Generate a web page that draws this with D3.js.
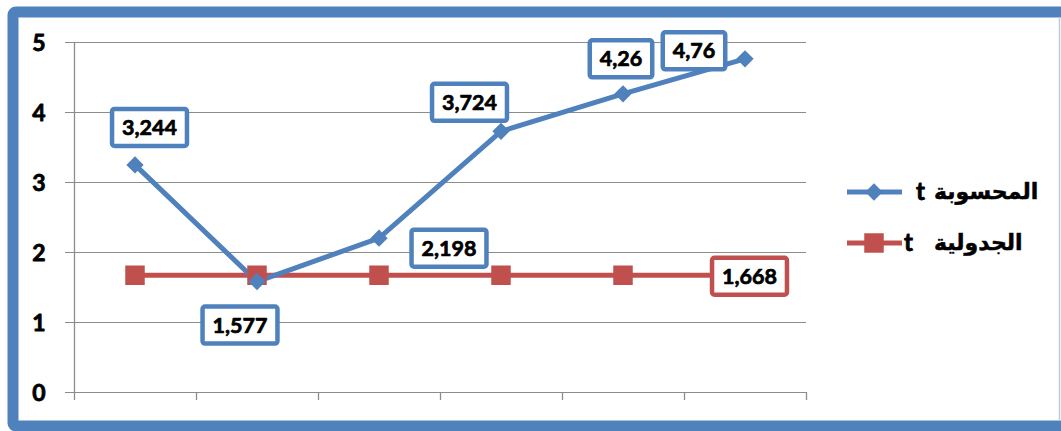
<!DOCTYPE html>
<html>
<head>
<meta charset="utf-8">
<script src="https://cdn.jsdelivr.net/npm/d3@7"></script>
<style>
  html, body { margin: 0; padding: 0; background: #fff; }
  svg { display: block; }
</style>
</head>
<body>
<svg id="chart" width="1061" height="431"></svg>
<script>
// Observation points (not labelled on the axis)
const categories = ["1", "2", "3", "4", "5", "6"];
// Computed t values
const tComputed = [3.244, 1.577, 2.198, 3.724, 4.26, 4.76];
// Tabulated (critical) t value
const tTable = [1.668, 1.668, 1.668, 1.668, 1.668, 1.668];
// Value axis ticks
const yTicks = [0, 1, 2, 3, 4, 5];
// Legend entries
const legendNames = ["المحسوبة", "الجدولية"];

const BLUE = "#4F81BD";
const RED = "#C0504D";
const GRID = "#8c8c8c";
const FONT = "Lato, 'Open Sans', 'Liberation Sans', sans-serif";

const svg = d3.select("#chart");

// Heavy text: bold face with a thin outline of the same colour
function heavy(sel, w) {
  return sel.attr("font-weight", "bold")
    .attr("fill", "#000")
    .attr("stroke", "#000").attr("stroke-width", w)
    .attr("stroke-linejoin", "round");
}

// Outer frame
svg.append("rect")
  .attr("x", 13).attr("y", 12)
  .attr("width", 1100).attr("height", 414)
  .attr("rx", 3)
  .attr("fill", "#fff")
  .attr("stroke", BLUE).attr("stroke-width", 11);
svg.append("line")
  .attr("x1", 1059.5).attr("x2", 1059.5)
  .attr("y1", 17).attr("y2", 421)
  .attr("stroke", "#b8cce4").attr("stroke-width", 1.5);

const x = d3.scaleBand().domain(categories).range([74, 806]).padding(0);
const y = d3.scaleLinear().domain([0, 5]).range([392, 42]);
const cx = d => x(d) + x.bandwidth() / 2;

// Horizontal gridlines + value axis
const yAxis = d3.axisLeft(y)
  .tickValues(yTicks)
  .tickSize(-(806 - 74))
  .tickPadding(0)
  .tickFormat("");
const gy = svg.append("g").attr("transform", "translate(74,0)").call(yAxis);
gy.select(".domain").remove();
gy.selectAll(".tick line")
  .attr("x1", -9)
  .attr("stroke", GRID).attr("stroke-width", 1.3)
  .attr("shape-rendering", "crispEdges");

svg.append("line")
  .attr("x1", 74.5).attr("x2", 74.5)
  .attr("y1", y(5)).attr("y2", y(0))
  .attr("stroke", GRID).attr("stroke-width", 1.3);

// Tick labels
svg.append("g").selectAll("text")
  .data(yTicks).join("text")
  .attr("x", 39).attr("y", d => y(d) + 8.5)
  .attr("text-anchor", "middle")
  .attr("font-family", FONT)
  .attr("font-size", 23)
  .call(heavy, 0.8)
  .text(d => d);

// Category axis with boundary tick marks
const xAxis = d3.axisBottom(x).tickSize(0).tickFormat("");
const gx = svg.append("g").attr("transform", "translate(0,392)").call(xAxis);
gx.select(".domain").remove();
gx.selectAll(".tick").remove();
svg.append("g").selectAll("line")
  .data(d3.range(categories.length + 1)).join("line")
  .attr("x1", i => 74.5 + i * x.bandwidth())
  .attr("x2", i => 74.5 + i * x.bandwidth())
  .attr("y1", 392).attr("y2", 400)
  .attr("stroke", GRID).attr("stroke-width", 1.3);

// Series lines
const line = d3.line().x((d, i) => cx(categories[i])).y(d => y(d));

svg.append("path").datum(tTable)
  .attr("d", line).attr("fill", "none")
  .attr("stroke", RED).attr("stroke-width", 5);

svg.append("path").datum(tComputed)
  .attr("d", line).attr("fill", "none")
  .attr("stroke", BLUE).attr("stroke-width", 5)
  .attr("stroke-linejoin", "round");

// Markers
const diamond = d3.symbol().type(d3.symbolDiamond2).size(190);
const square = d3.symbol().type(d3.symbolSquare).size(380);

svg.append("g").selectAll("path")
  .data(tTable).join("path")
  .attr("d", square)
  .attr("transform", (d, i) => `translate(${cx(categories[i])},${y(d)})`)
  .attr("fill", RED);

svg.append("g").selectAll("path")
  .data(tComputed).join("path")
  .attr("d", diamond)
  .attr("transform", (d, i) => `translate(${cx(categories[i])},${y(d)})`)
  .attr("fill", BLUE);

// Data labels
const fmt = v => String(v).replace(".", ",");
const blueLabelOffsets = [[14.5, -37.5], [-17, 43.5], [70, 10], [-31.5, -29], [-2, -35], [-51, -8]];
const redLabelOffsets = [null, null, null, null, null, [4.5, 1]];

function drawLabel(value, i, off, color) {
  const px = cx(categories[i]) + off[0];
  const py = y(value) + off[1];
  const g = svg.append("g");
  const rect = g.append("rect");
  const t = g.append("text")
    .attr("x", px).attr("y", py + 7.5)
    .attr("text-anchor", "middle")
    .attr("font-family", FONT)
    .attr("font-size", 21.5)
    .call(heavy, 0.7)
    .text(fmt(value));
  const w = t.node().getComputedTextLength() + 20;
  const h = 37;
  rect.attr("x", px - w / 2).attr("y", py - h / 2)
    .attr("width", w).attr("height", h)
    .attr("rx", 2.5)
    .attr("fill", "#fff")
    .attr("stroke", color).attr("stroke-width", 4.5);
}

tComputed.forEach((v, i) => drawLabel(v, i, blueLabelOffsets[i], BLUE));
tTable.forEach((v, i) => { if (redLabelOffsets[i]) drawLabel(v, i, redLabelOffsets[i], RED); });

// Legend
const legend = [
  { name: legendNames[0], color: BLUE, sym: diamond, y: 192, tx: 916 },
  { name: legendNames[1], color: RED, sym: square, y: 243, tx: 904 }
];
legend.forEach(e => {
  svg.append("line")
    .attr("x1", 847).attr("x2", 902)
    .attr("y1", e.y).attr("y2", e.y)
    .attr("stroke", e.color).attr("stroke-width", 5);
  svg.append("path").attr("d", e.sym)
    .attr("transform", `translate(874,${e.y})`)
    .attr("fill", e.color);
  svg.append("text")
    .attr("x", e.tx).attr("y", e.y + 8)
    .attr("font-family", FONT)
    .attr("font-size", 24)
    .call(heavy, 0.8)
    .text("t");
  svg.append("text")
    .attr("x", 934).attr("y", e.y + 7)
    .attr("text-anchor", "start")
    .attr("font-family", "DejaVu Sans, sans-serif")
    .attr("font-size", 22)
    .call(heavy, 0.5)
    .text(e.name);
});
</script>
</body>
</html>
